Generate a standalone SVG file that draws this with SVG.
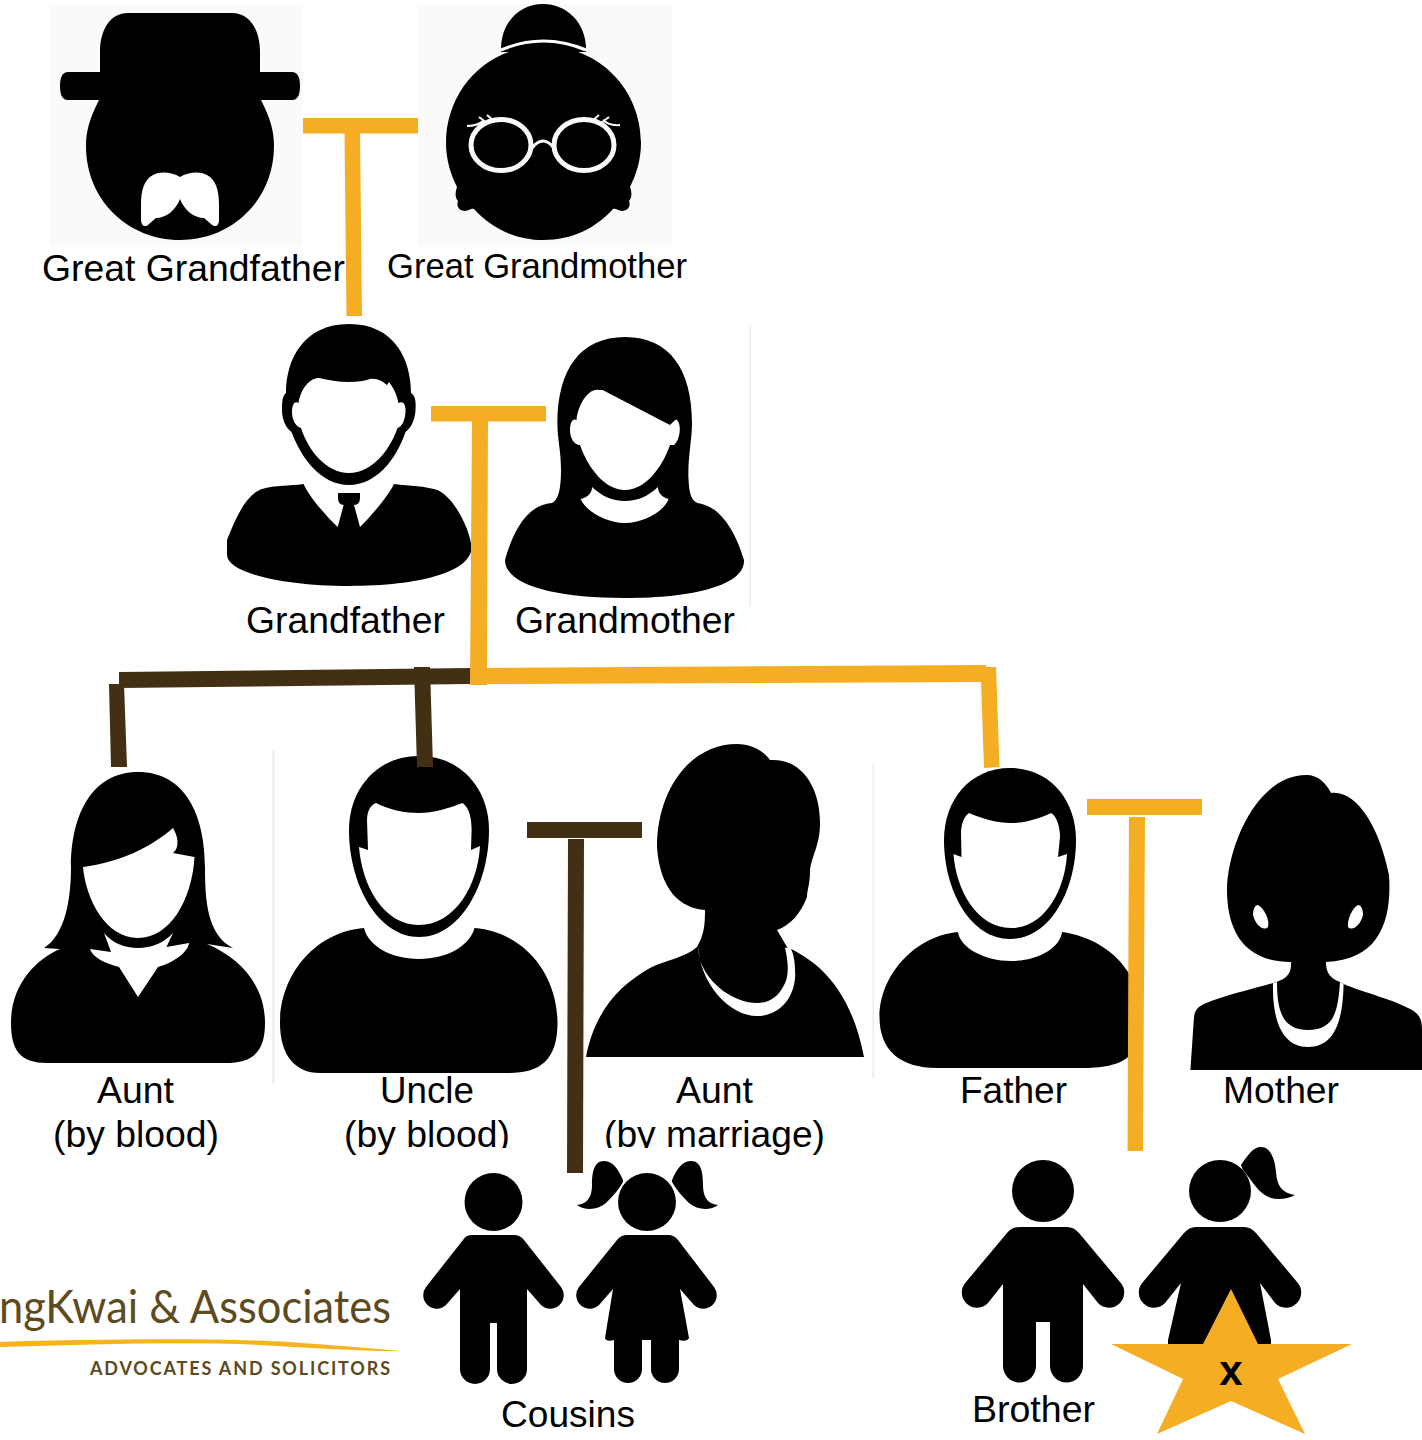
<svg xmlns="http://www.w3.org/2000/svg" width="1422" height="1440" viewBox="0 0 1422 1440">
<style>
text{font-family:"Liberation Sans",Arial,sans-serif;fill:#000;font-size:37px}
.k{fill:#000}.w{fill:#fff}.o{fill:#f5ae24}.d{fill:#432f13}.bg{fill:#fafafa}.l{fill:#ebebeb}
.logo{font-family:Lato,"Open Sans",sans-serif;fill:#5d4a1f}
</style>
<rect width="1422" height="1440" fill="#fff"/>
<g id="great-grandfather">
<rect class="bg" x="49" y="4" width="254" height="243"/>
<path class="k" d="M128,13H232C250,13 260,30 260,52V72H292Q300,72 300,86Q300,100 292,100H261C270,118 274,130 274,146C274,200 232,240 180,240C128,240 86,200 86,146C86,130 90,118 99,100H68Q60,100 60,86Q60,72 68,72H100V52C100,30 110,13 128,13Z"/>
<path class="w" d="M180,177C172,172 160,171 153,175C144,180 141,190 141,205V220C141,226 146,228 149,224L156,218C166,218 176,210 180,199C184,210 194,218 204,218L211,224C215,228 219,226 219,220V205C219,190 216,180 207,175C200,171 188,172 180,177Z"/>
<text x="42" y="281" textLength="303" lengthAdjust="spacingAndGlyphs">Great Grandfather</text>
</g>
<g id="great-grandmother">
<rect class="bg" x="417" y="4" width="255" height="243"/>
<path class="k" d="M501,52C500,22 520,4 543,4C566,4 587,22 586,52Z"/>
<path class="k" d="M543.500,46C600,46 641,90 641,143C641,160 636,175 630,187C632,192 632,198 629,201C631,206 628,211 622,211C618,211 616,208 613,209C596,228 572,240 543.500,240C515,240 491,228 474,209C471,208 469,211 465,211C459,211 456,206 458,201C455,198 455,192 457,187C451,175 446,160 446,143C446,90 487,46 543.500,46Z"/>
<path d="M501,50Q543,32 586,50" fill="none" stroke="#fff" stroke-width="3"/>
<g fill="none" stroke="#fafafa">
<ellipse cx="501" cy="145" rx="30" ry="25.500" stroke-width="5"/>
<ellipse cx="584" cy="145" rx="30" ry="25.500" stroke-width="5"/>
<path d="M532,148Q543,134 554,148" stroke-width="3"/>
<path d="M467,126Q478,126 484,120M479,117L487,123M487,115L494,121M620,125Q609,126 603,120M609,117L601,123M599,115L592,121" stroke-width="2"/>
</g>
<text x="387" y="278" textLength="300" lengthAdjust="spacingAndGlyphs" style="font-size:35px">Great Grandmother</text>
</g>
<g id="grandfather">
<path class="k" d="M349,324C395,324 411,360 411,393C416,396 416,404 415.500,410C415,420 411,428 405.500,432C396,460 376,485 349,485C322,485 302,460 291.500,432C286,428 282,420 282,410C282,404 282,396 286,393C286,360 303,324 349,324Z"/>
<path class="w" d="M319,378C328,380 338,382 349,382C358,382 365,381 370,379C378,378 383,382 387,385L389,382C395,390 397,396 398.500,403C404,400 406,406 405.500,412C405,420 402,427 397.500,428C390,450 372,473 349,473C326,473 308,450 301,428C296,427 292,420 292,412C292,406 294,400 298.500,403C301,388 310,378 319,378Z"/>
<path class="k" d="M303.600,484C307,493 322,512 337.700,527L343.600,505H354L360,527C375,512 390,493 394,484C410,486 425,486 437.500,490C455,498 470,530 471.500,547C472,572 420,586 349,586C280,586 227,572 227,555V540C235,520 245,495 262,489C275,485 290,486 303.600,484Z"/>
<path class="k" d="M338,493H360V498Q360,505 354,505H344Q338,505 338,498Z"/>
<text x="246" y="633" textLength="199" lengthAdjust="spacingAndGlyphs">Grandfather</text>
</g>
<g id="grandmother">
<rect class="l" x="749.500" y="325" width="1.500" height="281"/>
<path class="k" d="M625,337C670,337 692,370 692,423C692,440 688,455 688.400,477C689,490 690,500 697.500,503C720,506 735,530 744,560C745,585 695,598 625,598C555,598 505,585 505,560C512,535 525,505 552,503C558,500 561,490 561,470C561,450 557.400,440 557.400,423C557.400,370 580,337 625,337Z"/>
<path class="w" d="M602.600,390L670,425C672,423 677,418 677,420C682,425 680,440 674,445H670C662,468 645,490 625,490C605,490 588,468 580,445C574,445 570,438 570,430C570,422 573,418 576.500,420C578,405 588,388 599,390Z"/>
<path class="w" d="M580.600,499C588,497 592,493 592,487C602,496 612,501 625,501C638,501 648,496 658,487C658,493 662,497 668.600,499C665,510 645,523 625,523C605,523 585,510 580.600,499Z"/>
<text x="515" y="633" textLength="220" lengthAdjust="spacingAndGlyphs">Grandmother</text>
</g>
<g id="aunt-blood">
<rect class="l" x="272.500" y="751" width="2" height="333"/>
<path class="k" d="M138,772C185,772 205,815 205,867C205,900 207,935 233,948L207,944C240,958 265,985 265,1023C265,1050 255,1063 225,1063H47C20,1063 11,1050 11,1023C11,985 35,960 60,949L44,948C65,935 71,900 71,867C71,815 92,772 138,772Z"/>
<path class="w" d="M83,867C120,862 150,848 173,828C178,836 180,848 173,853L194.500,857C192,900 170,938 138,938C106,938 86,900 83,867Z"/>
<path class="w" d="M90,949L111,952L104,933C112,943 125,948 138,948C151,948 164,943 173,933L166.500,947L189,943C188,952 175,962 158,967L138,997L119,967C105,963 93,958 90,949Z"/>
<text x="97" y="1103" textLength="77" lengthAdjust="spacingAndGlyphs">Aunt</text>
<text x="53" y="1147" textLength="166" lengthAdjust="spacingAndGlyphs">(by blood)</text>
</g>
<g id="uncle-blood">
<path class="k" d="M419,756C462,756 489,790 489,830C489,885 460,937 419,937C378,937 349,885 349,830C349,790 376,756 419,756Z"/>
<path class="w" d="M376,803C390,810 405,813 419,813C433,813 450,808 462.500,803C470,808 471.600,820 471.600,830L471,850L480,846C478,885 455,925 419,925C383,925 362,885 359,847L368,850L367,820C367,812 370,805 376,803Z"/>
<path class="k" d="M364,928C368,945 390,959 419,959C448,959 470,945 474.500,928C525,932 557.500,975 557.500,1023C557.500,1060 540,1073 509,1073H320C295,1073 280,1055 280,1023C280,975 315,932 364,928Z"/>
<text x="380" y="1103" textLength="94" lengthAdjust="spacingAndGlyphs">Uncle</text>
<text x="344" y="1147" textLength="166" lengthAdjust="spacingAndGlyphs">(by blood)</text>
</g>
<g id="aunt-marriage">
<path class="k" d="M737,744C752,744 765,752 770,760C800,758 820,785 820,823C820,845 812,855 810,870C810,885 807,890 807,897C800,915 790,925 777,930L787,947C815,960 850,985 864,1057H586C595,1010 620,985 650,968C665,960 685,958 697,947C704,935 705,925 705,910C680,908 660,890 657,847C657,790 690,744 737,744Z"/>
<path class="w" d="M698,945C700,985 730,1016 757,1016C785,1016 797,990 795,970C795,960 793,952 790,947L785,948C789,965 789,978 783,987C777,998 768,1003 757,1003C735,1003 708,985 700,960Z"/>
<text x="676" y="1103" textLength="77" lengthAdjust="spacingAndGlyphs">Aunt</text>
<text x="604" y="1147" textLength="221" lengthAdjust="spacingAndGlyphs">(by marriage)</text>
</g>
<g id="father">
<rect class="l" x="872.500" y="764" width="1.500" height="314"/>
<path class="k" d="M1010,768C1050,768 1076,800 1076,840C1076,890 1050,939 1010,939C970,939 944,890 944,840C944,800 970,768 1010,768Z"/>
<path class="w" d="M969,813C983,819 997,823 1011,823C1025,823 1038,819 1051,813C1057,816 1060,828 1060,837L1058,857L1067,854C1065,890 1045,928 1011,928C977,928 956,890 953.500,854L961.500,857L961,833C961,825 964,816 969,813Z"/>
<path class="k" d="M958,932C960,948 985,961 1011,961C1038,961 1060,948 1062,932C1090,936 1115,950 1130,975V1055C1120,1066 1100,1068 1081,1068H937C900,1068 879.500,1050 879.500,1017C879.500,975 915,936 958,932Z"/>
<text x="960" y="1103" textLength="107" lengthAdjust="spacingAndGlyphs">Father</text>
</g>
<g id="mother">
<path class="k" d="M1306.600,775C1318,775 1326,783 1331,793C1358,790 1380,830 1389,875C1392,920 1380,960 1326,962C1326,970 1328,978 1340,982L1343.600,984C1365,993 1395,1000 1412,1010C1420,1015 1422,1020 1422,1030V1070H1190.400L1194,1017C1195,1010 1198,1007 1204,1004C1225,995 1250,990 1273,983C1285,980 1292,975 1291,962C1240,962 1227,925 1227,890C1227,850 1255,775 1306.600,775Z"/>
<path class="w" d="M1273,983L1277,982C1277,1010 1282,1030 1308,1030C1335,1030 1338,1010 1340,982L1343.600,984C1343,1020 1335,1047 1308,1047C1282,1047 1272,1020 1273,983Z"/>
<path class="w" d="M1258,905C1264,908 1270,920 1268,927C1263,932 1255,924 1253,915C1253,909 1255,905 1258,905Z"/>
<path class="w" d="M1358,905C1352,908 1347,920 1348,927C1353,932 1361,924 1363,915C1363,909 1361,905 1358,905Z"/>
<text x="1223" y="1103" textLength="116" lengthAdjust="spacingAndGlyphs">Mother</text>
</g>
<g id="cousins">
<rect class="w" x="415" y="1148" width="310" height="240"/>
<circle class="k" cx="493.500" cy="1202" r="29"/>
<path class="k" d="M472,1235H514Q520,1235 524,1240L561,1287A13.500,13.500 0 0 1 541,1305L527,1289V1369A14,14 0 0 1 497,1369V1323H490V1369A14,14 0 0 1 460,1369V1289L446,1305A13.500,13.500 0 0 1 426,1287L463,1240Q466,1235 472,1235Z"/>
<circle class="k" cx="647" cy="1202" r="29"/>
<path class="k" d="M623,1180C618,1168 612,1161 604,1161C594,1161 592,1172 592,1185C592,1196 588,1204 577,1205C585,1211 598,1210 606,1203C612,1197 617,1192 623,1182Z"/>
<path class="k" d="M672,1180C677,1168 683,1161 691,1161C701,1161 703,1172 703,1185C703,1196 707,1204 718,1205C710,1211 697,1210 689,1203C683,1197 678,1192 672,1182Z"/>
<path class="k" d="M627,1235H668Q674,1235 678,1240L714,1287A13.500,13.500 0 0 1 694,1305L680,1289L689,1338Q687,1342 679,1340V1369A14,14 0 0 1 651,1369V1340H642V1369A14,14 0 0 1 614,1369V1340Q606,1342 605,1338L613,1289L599,1305A13.500,13.500 0 0 1 579,1287L617,1240Q621,1235 627,1235Z"/>
<text x="501" y="1427" textLength="134" lengthAdjust="spacingAndGlyphs">Cousins</text>
</g>
<g id="brother">
<circle class="k" cx="1043" cy="1191" r="31"/>
<path class="k" d="M1020,1227H1067Q1074,1227 1079,1233L1120,1282A15,15 0 0 1 1098,1303L1083,1284V1366A16,16 0 0 1 1050,1366V1322H1036V1366A16,16 0 0 1 1003,1366V1284L988,1303A15,15 0 0 1 966,1282L1007,1233Q1012,1227 1020,1227Z"/>
<text x="972" y="1422" textLength="123" lengthAdjust="spacingAndGlyphs">Brother</text>
</g>
<g id="sister">
<circle class="k" cx="1220" cy="1191" r="31"/>
<path class="k" d="M1241,1165C1248,1155 1253,1147 1261,1147C1271,1147 1275,1160 1276,1172C1277,1186 1282,1193 1295,1195C1288,1199 1278,1200 1271,1198C1258,1194 1252,1180 1243,1170Z"/>
<path class="k" d="M1196,1227H1244Q1251,1227 1256,1233L1297,1282A15,15 0 0 1 1275,1303L1260,1283L1271,1340V1345H1168V1340L1181,1283L1165,1303A15,15 0 0 1 1143,1282L1184,1233Q1189,1227 1196,1227Z"/>
</g>
<g id="logo">
<text class="logo" x="-1" y="1323" textLength="392" lengthAdjust="spacingAndGlyphs" style="font-size:46px">ngKwai &amp; Associates</text>
<path d="M0,1342C100,1339 220,1338 290,1342C330,1345 370,1348 401,1351C350,1351 300,1347 240,1344C160,1342 80,1345 0,1347Z" fill="#f6b41c"/>
<text class="logo" x="90" y="1375" textLength="300" lengthAdjust="spacing" style="font-size:18px;font-weight:700">ADVOCATES AND SOLICITORS</text>
</g>
<g id="connectors">
<rect class="o" x="303" y="118" width="115" height="15.500"/>
<polygon class="o" points="344.500,133 360,133 362,316 346.500,316"/>
<rect class="o" x="431" y="406" width="115" height="15.500"/>
<polygon class="d" points="119,672 471,668 471,684 119,688"/>
<polygon class="d" points="109,684 124,684 127,767 111,767"/>
<polygon class="d" points="414,667 430,667 433,767 417,767"/>
<polygon class="o" points="472,421 488,421 487,668 986,665 986,667 996,667 999.500,767 984,768 981,682 487,684 487,685 470,685"/>
<rect class="d" x="527" y="822" width="115" height="16"/>
<polygon class="d" points="568,839 584,839 583,1173 567,1173"/>
<rect class="o" x="1087" y="799" width="115" height="16"/>
<polygon class="o" points="1129,817 1145,817 1143,1151 1127.500,1151"/>
</g>
<g id="star">
<polygon class="o" points="1231,1289 1258,1344 1352,1344 1278,1379 1305,1434 1231,1401 1157,1434 1183,1379 1111,1344 1203,1344"/>
<text x="1231" y="1385" text-anchor="middle" style="font-size:42px;font-weight:700">x</text>
</g>
</svg>
